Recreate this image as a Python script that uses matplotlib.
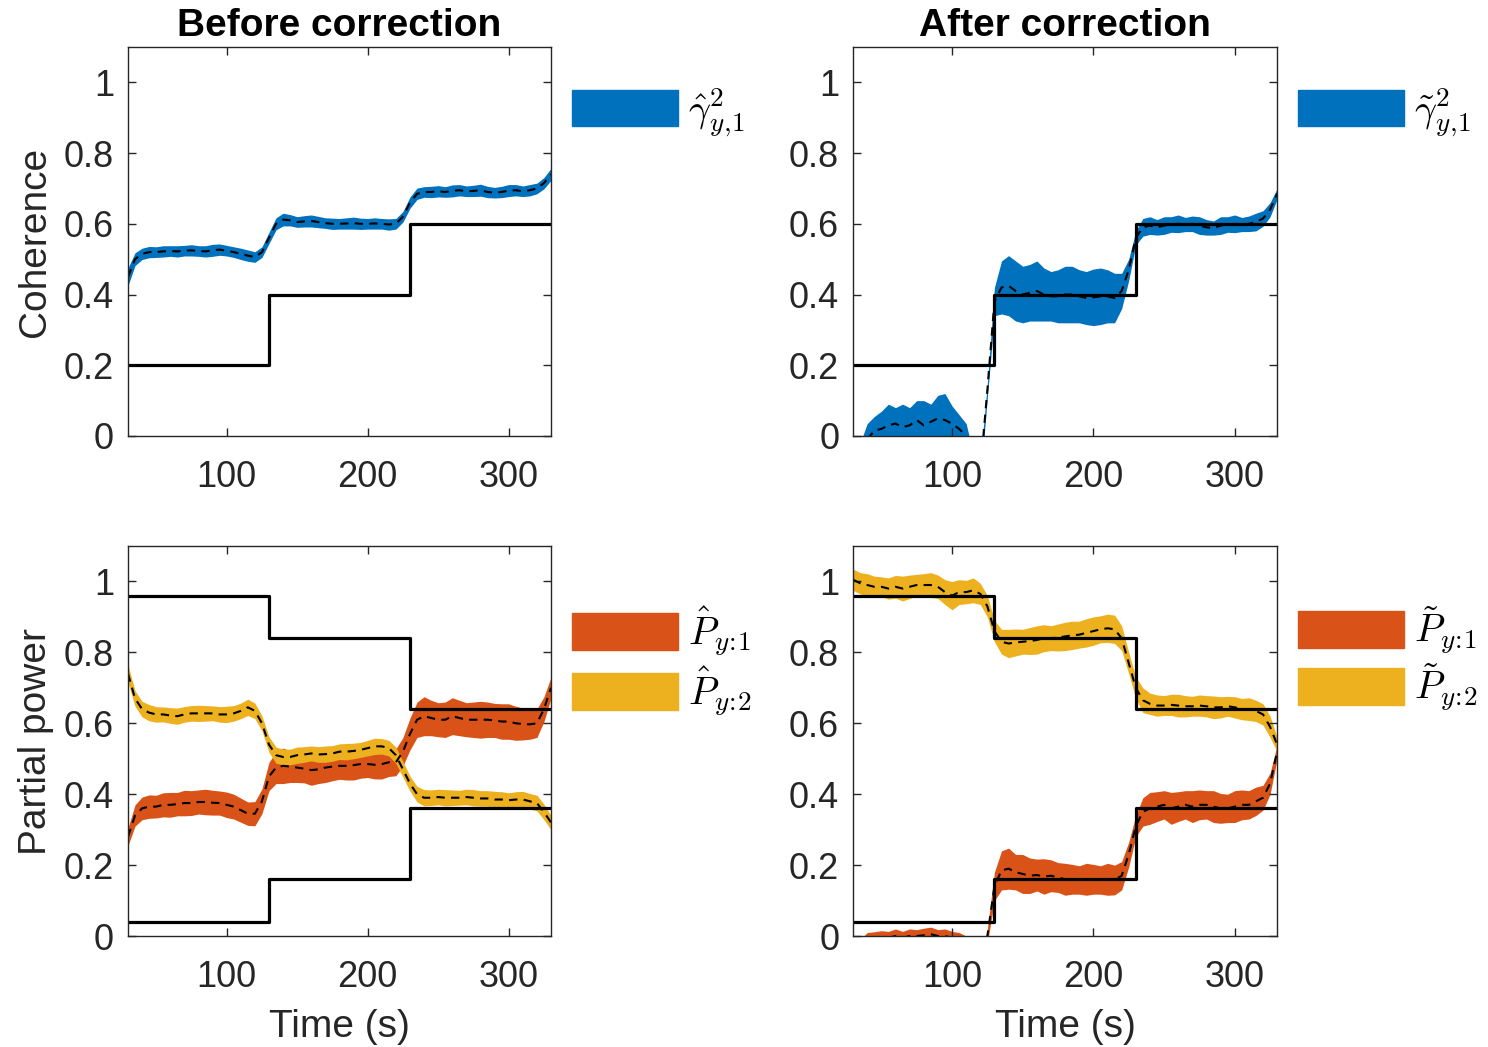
import numpy as np
import matplotlib
matplotlib.use("Agg")
import matplotlib.pyplot as plt
from matplotlib.patches import Patch

plt.rcParams["font.family"] = ["Liberation Sans", "DejaVu Sans"]
plt.rcParams["mathtext.fontset"] = "cm"

# time grid (s)
t = np.arange(30, 331, 5)

# true values (step functions), change at 130 s and 230 s
step_t = [30, 130, 230, 330]
coh_true = [0.2, 0.4, 0.6, 0.6]
p1_true = [0.04, 0.16, 0.36, 0.36]
p2_true = [0.96, 0.84, 0.64, 0.64]

# coherence, before correction
coh_b = [0.45, 0.50, 0.515, 0.52, 0.52, 0.522, 0.523, 0.522, 0.524, 0.525,
         0.523, 0.522, 0.525, 0.527, 0.524, 0.52, 0.515, 0.51, 0.506, 0.52,
         0.56, 0.60, 0.612, 0.61, 0.605, 0.607, 0.608, 0.605, 0.602, 0.60,
         0.60, 0.601, 0.602, 0.60, 0.60, 0.601, 0.60, 0.598, 0.60, 0.62,
         0.66, 0.685, 0.69, 0.69, 0.692, 0.69, 0.693, 0.695, 0.692, 0.693,
         0.695, 0.69, 0.688, 0.69, 0.694, 0.695, 0.692, 0.695, 0.70, 0.715,
         0.74]
coh_b_hw = [0.025, 0.018, 0.016, 0.016, 0.015, 0.016, 0.015, 0.016, 0.015, 0.016,
            0.015, 0.016, 0.017, 0.016, 0.015, 0.015, 0.016, 0.016, 0.015, 0.015,
            0.016, 0.017, 0.018, 0.016, 0.015, 0.016, 0.017, 0.016, 0.015, 0.016,
            0.015, 0.016, 0.017, 0.016, 0.015, 0.016, 0.015, 0.016, 0.015, 0.015,
            0.016, 0.016, 0.015, 0.016, 0.016, 0.015, 0.017, 0.016, 0.015, 0.016,
            0.017, 0.016, 0.015, 0.016, 0.017, 0.016, 0.015, 0.016, 0.015, 0.016,
            0.017]

# coherence, after correction
coh_a = [-0.08, -0.06, -0.01, 0.015, 0.02, 0.03, 0.035, 0.025, 0.03, 0.045,
         0.03, 0.04, 0.05, 0.045, 0.035, 0.02, 0.0, -0.08, -0.1, 0.13,
         0.38, 0.42, 0.425, 0.41, 0.40, 0.405, 0.41, 0.40, 0.395, 0.395,
         0.40, 0.40, 0.395, 0.39, 0.392, 0.395, 0.395, 0.39, 0.41, 0.47,
         0.56, 0.59, 0.595, 0.59, 0.595, 0.598, 0.60, 0.598, 0.60, 0.595,
         0.59, 0.588, 0.595, 0.598, 0.60, 0.598, 0.60, 0.605, 0.615, 0.64,
         0.685]
coh_a_hw = [0.04, 0.04, 0.045, 0.04, 0.05, 0.06, 0.045, 0.065, 0.05, 0.055,
            0.07, 0.05, 0.065, 0.075, 0.05, 0.04, 0.035, 0.03, 0.03, 0.02,
            0.04, 0.075, 0.085, 0.085, 0.08, 0.08, 0.085, 0.075, 0.07, 0.075,
            0.08, 0.08, 0.075, 0.075, 0.08, 0.08, 0.075, 0.07, 0.05, 0.03,
            0.02, 0.025, 0.025, 0.022, 0.025, 0.022, 0.025, 0.02, 0.022, 0.025,
            0.022, 0.02, 0.025, 0.022, 0.025, 0.02, 0.022, 0.025, 0.022, 0.02,
            0.015]

# partial power, before correction
p1_b = [0.28, 0.34, 0.36, 0.365, 0.365, 0.37, 0.37, 0.372, 0.375, 0.375,
        0.378, 0.378, 0.376, 0.375, 0.37, 0.365, 0.355, 0.345, 0.345, 0.38,
        0.45, 0.475, 0.48, 0.478, 0.475, 0.472, 0.468, 0.47, 0.475, 0.478,
        0.48, 0.48, 0.482, 0.485, 0.485, 0.483, 0.485, 0.49, 0.49, 0.52,
        0.57, 0.61, 0.62, 0.615, 0.61, 0.61, 0.62, 0.615, 0.61, 0.61,
        0.61, 0.61, 0.608, 0.605, 0.605, 0.60, 0.598, 0.597, 0.60, 0.64,
        0.70]
p1_b_hw = [0.025, 0.03, 0.032, 0.033, 0.032, 0.034, 0.035, 0.033, 0.036, 0.035,
           0.034, 0.036, 0.035, 0.034, 0.036, 0.035, 0.034, 0.033, 0.034, 0.035,
           0.04, 0.045, 0.05, 0.045, 0.042, 0.04, 0.043, 0.04, 0.042, 0.04,
           0.038, 0.04, 0.042, 0.04, 0.038, 0.04, 0.042, 0.04, 0.038, 0.04,
           0.045, 0.05, 0.055, 0.05, 0.048, 0.05, 0.052, 0.05, 0.048, 0.05,
           0.052, 0.05, 0.048, 0.05, 0.05, 0.048, 0.045, 0.042, 0.04, 0.035,
           0.03]
p2_b = [0.74, 0.67, 0.64, 0.63, 0.625, 0.625, 0.622, 0.62, 0.625, 0.628,
        0.628, 0.628, 0.628, 0.625, 0.625, 0.628, 0.635, 0.645, 0.635, 0.60,
        0.54, 0.51, 0.505, 0.505, 0.51, 0.512, 0.515, 0.512, 0.513, 0.515,
        0.52, 0.52, 0.522, 0.525, 0.53, 0.535, 0.535, 0.53, 0.51, 0.47,
        0.43, 0.40, 0.39, 0.39, 0.392, 0.39, 0.39, 0.39, 0.392, 0.39,
        0.388, 0.388, 0.385, 0.385, 0.383, 0.385, 0.385, 0.38, 0.375, 0.35,
        0.32]
p2_b_hw = [0.025, 0.022, 0.022, 0.023, 0.022, 0.021, 0.022, 0.023, 0.022, 0.022,
           0.023, 0.022, 0.021, 0.022, 0.023, 0.022, 0.022, 0.023, 0.022, 0.021,
           0.022, 0.023, 0.022, 0.022, 0.023, 0.022, 0.021, 0.022, 0.023, 0.022,
           0.022, 0.023, 0.022, 0.021, 0.022, 0.023, 0.022, 0.022, 0.023, 0.022,
           0.021, 0.022, 0.023, 0.022, 0.022, 0.023, 0.022, 0.021, 0.022, 0.023,
           0.022, 0.022, 0.023, 0.022, 0.021, 0.022, 0.023, 0.022, 0.022, 0.022,
           0.02]

# partial power, after correction
p1_a = [-0.06, -0.03, -0.01, -0.01, -0.005, -0.005, 0.0, -0.005, 0.0, 0.0,
        0.002, 0.005, 0.0, 0.0, -0.005, -0.01, -0.02, -0.05, -0.1, 0.0,
        0.14, 0.185, 0.19, 0.18, 0.175, 0.17, 0.172, 0.168, 0.17, 0.165,
        0.16, 0.16, 0.158, 0.16, 0.16, 0.158, 0.16, 0.158, 0.17, 0.23,
        0.31, 0.35, 0.36, 0.365, 0.37, 0.36, 0.365, 0.37, 0.365, 0.37,
        0.37, 0.365, 0.36, 0.36, 0.365, 0.37, 0.37, 0.38, 0.39, 0.43,
        0.52]
p1_a_hw = [0.02, 0.02, 0.02, 0.022, 0.02, 0.018, 0.02, 0.018, 0.02, 0.018,
           0.02, 0.02, 0.018, 0.02, 0.018, 0.02, 0.02, 0.02, 0.02, 0.02,
           0.04, 0.055, 0.058, 0.05, 0.055, 0.05, 0.045, 0.05, 0.045, 0.042,
           0.045, 0.042, 0.04, 0.045, 0.042, 0.04, 0.045, 0.042, 0.04, 0.035,
           0.03, 0.04, 0.045, 0.042, 0.04, 0.045, 0.042, 0.04, 0.045, 0.042,
           0.04, 0.045, 0.042, 0.04, 0.045, 0.042, 0.04, 0.04, 0.035, 0.03,
           0.02]
p2_a = [1.005, 0.995, 0.99, 0.985, 0.985, 0.98, 0.985, 0.98, 0.985, 0.99,
        0.99, 0.99, 0.985, 0.97, 0.96, 0.97, 0.97, 0.975, 0.965, 0.93,
        0.86, 0.83, 0.825, 0.828, 0.83, 0.832, 0.835, 0.84, 0.84, 0.842,
        0.845, 0.848, 0.85, 0.855, 0.86, 0.865, 0.868, 0.865, 0.84, 0.77,
        0.70, 0.665, 0.655, 0.65, 0.65, 0.652, 0.65, 0.648, 0.648, 0.65,
        0.648, 0.645, 0.645, 0.648, 0.645, 0.64, 0.64, 0.635, 0.625, 0.59,
        0.54]
p2_a_hw = [0.03, 0.03, 0.032, 0.03, 0.028, 0.03, 0.032, 0.035, 0.033, 0.03,
           0.032, 0.035, 0.033, 0.035, 0.04, 0.035, 0.033, 0.035, 0.03, 0.03,
           0.03, 0.035, 0.04, 0.038, 0.035, 0.038, 0.04, 0.038, 0.035, 0.038,
           0.04, 0.04, 0.038, 0.04, 0.04, 0.038, 0.04, 0.04, 0.035, 0.03,
           0.03, 0.035, 0.03, 0.03, 0.028, 0.03, 0.032, 0.03, 0.028, 0.03,
           0.03, 0.032, 0.03, 0.028, 0.03, 0.03, 0.032, 0.03, 0.03, 0.03,
           0.02]

BLUE = "#0072BD"
ORANGE = "#D95319"
YELLOW = "#EDB120"
AXC = "#262626"

fig = plt.figure(figsize=(14.88, 10.47), dpi=100)
pos = {
    "tl": [0.086, 0.5836, 0.2843, 0.3715],
    "tr": [0.5733, 0.5836, 0.2850, 0.3715],
    "bl": [0.086, 0.1060, 0.2843, 0.3725],
    "br": [0.5733, 0.1060, 0.2850, 0.3725],
}


def style(ax):
    ax.set_xlim(30, 330)
    ax.set_ylim(0, 1.1)
    ax.set_xticks([100, 200, 300])
    ax.set_yticks([0, 0.2, 0.4, 0.6, 0.8, 1.0])
    ax.set_yticklabels(["0", "0.2", "0.4", "0.6", "0.8", "1"])
    ax.tick_params(direction="in", top=True, right=True, length=6, width=1,
                   labelsize=26, colors=AXC)
    ax.tick_params(axis="x", pad=17)
    ax.tick_params(axis="y", pad=10)
    for s in ax.spines.values():
        s.set_color(AXC)
        s.set_linewidth(1.0)


def band(ax, m, hw, color):
    m = np.array(m)
    hw = np.array(hw)
    ax.fill_between(t, m - hw, m + hw, color=color, lw=0)


def mean_line(ax, m):
    ax.plot(t, m, color="black", ls=(0, (4, 3)), lw=1.5)


def truth(ax, vals):
    ax.step(step_t, vals, where="post", color="black", lw=2.3)


def legend(ax, handles, labels, y, hh=1.05):
    ax.legend(handles, labels, loc="upper left", bbox_to_anchor=(1.05, y),
              frameon=False, fontsize=28, handlelength=2.72, handleheight=hh,
              handletextpad=0.25, borderpad=0, borderaxespad=0, labelspacing=0.15)


# top-left
ax = fig.add_axes(pos["tl"])
band(ax, coh_b, coh_b_hw, BLUE)
mean_line(ax, coh_b)
truth(ax, coh_true)
style(ax)
ax.set_title("Before correction", fontsize=28, fontweight="bold", pad=8)
ax.set_ylabel("Coherence", fontsize=28, color=AXC, labelpad=8)
legend(ax, [Patch(color=BLUE)], [r"$\hat{\gamma}^2_{y,\!1}$"], 0.90)

# top-right
ax = fig.add_axes(pos["tr"])
band(ax, coh_a, coh_a_hw, BLUE)
mean_line(ax, coh_a)
truth(ax, coh_true)
style(ax)
ax.set_title("After correction", fontsize=28, fontweight="bold", pad=8)
legend(ax, [Patch(color=BLUE)], [r"$\tilde{\gamma}^2_{y,\!1}$"], 0.90)

# bottom-left
ax = fig.add_axes(pos["bl"])
band(ax, p1_b, p1_b_hw, ORANGE)
band(ax, p2_b, p2_b_hw, YELLOW)
mean_line(ax, p1_b)
mean_line(ax, p2_b)
truth(ax, p1_true)
truth(ax, p2_true)
style(ax)
ax.set_ylabel("Partial power", fontsize=28, color=AXC, labelpad=7)
ax.set_xlabel("Time (s)", fontsize=28, color=AXC, labelpad=10)
legend(ax, [Patch(color=ORANGE), Patch(color=YELLOW)],
       [r"$\hat{P}_{y\!:\!1}$", r"$\hat{P}_{y\!:\!2}$"], 0.85, hh=1.1)

# bottom-right
ax = fig.add_axes(pos["br"])
band(ax, p1_a, p1_a_hw, ORANGE)
band(ax, p2_a, p2_a_hw, YELLOW)
mean_line(ax, p1_a)
mean_line(ax, p2_a)
truth(ax, p1_true)
truth(ax, p2_true)
style(ax)
ax.set_xlabel("Time (s)", fontsize=28, color=AXC, labelpad=10)
legend(ax, [Patch(color=ORANGE), Patch(color=YELLOW)],
       [r"$\tilde{P}_{y\!:\!1}$", r"$\tilde{P}_{y\!:\!2}$"], 0.85, hh=1.1)

fig.savefig("out.png", dpi=100)
